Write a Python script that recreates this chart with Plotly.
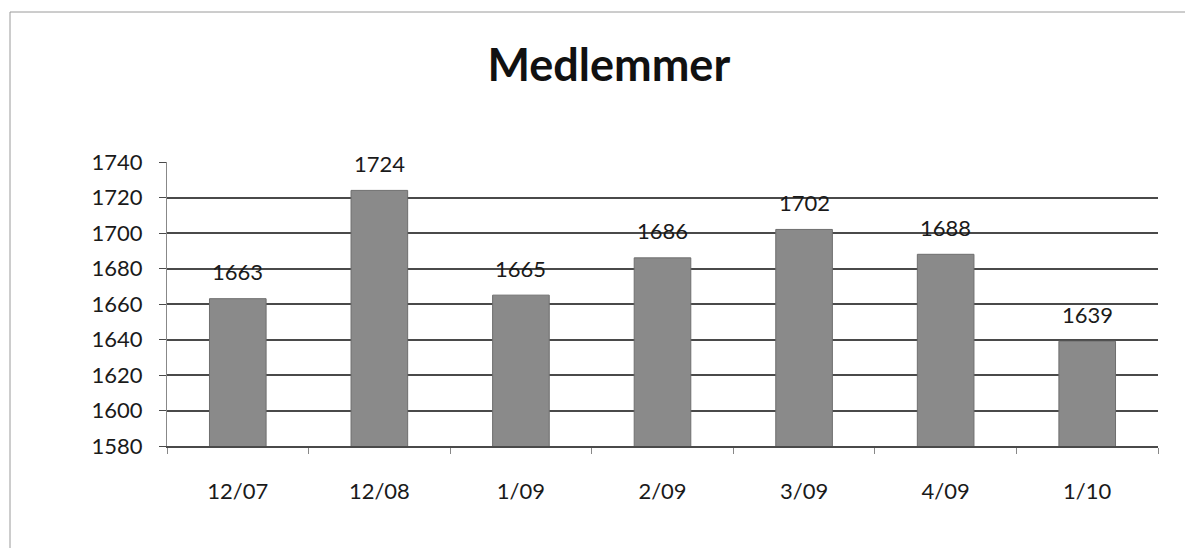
import plotly.graph_objects as go

categories = ["12/07", "12/08", "1/09", "2/09", "3/09", "4/09", "1/10"]
values = [1663, 1724, 1665, 1686, 1702, 1688, 1639]
y_ticks = [1580, 1600, 1620, 1640, 1660, 1680, 1700, 1720, 1740]

# page body offset of 8px is compensated in the figure size/margins
W, H = 1185, 540
L, R, T, B = 159, 35, 154, 102
pw, ph = W - L - R, H - T - B
OFF = 8

font = "Lato, 'Open Sans', sans-serif"

fig = go.Figure()
fig.add_trace(go.Bar(
    x=categories, y=values, width=0.4,
    marker=dict(color="#8a8a8a", line=dict(color="#6e6e6e", width=1)),
    hoverinfo="x+y",
))
for c, v in zip(categories, values):
    fig.add_annotation(x=c, y=v, text=str(v), showarrow=False, yshift=27,
                       font=dict(size=22, color="#1a1a1a", family=font))

fig.update_layout(
    width=W, height=H,
    margin=dict(l=L, r=R, t=T, b=B),
    paper_bgcolor="white", plot_bgcolor="white",
    title=dict(text="<b>Medlemmer</b>", x=0.507, xanchor="center", y=0.894, yanchor="middle",
               font=dict(size=45, color="#111", family=font)),
    showlegend=False,
    bargap=0.6,
)
fig.update_yaxes(range=[1580, 1740], tickvals=y_ticks, showgrid=True,
                 gridcolor="#4a4a4a", gridwidth=1.5, showline=True, linecolor="#888",
                 linewidth=1, ticks="outside", ticklen=7, tickcolor="#4a4a4a",
                 tickfont=dict(size=22, color="#1a1a1a", family=font),
                 ticklabelstandoff=12, zeroline=False)
fig.update_xaxes(showline=True, linecolor="#4a4a4a", linewidth=1.5, ticks="outside",
                 tickson="boundaries", ticklen=6, tickcolor="#888",
                 tickfont=dict(size=22, color="#1a1a1a", family=font),
                 ticklabelstandoff=25)

# outer chart frame (screen pixel coordinates converted to paper coordinates)
def px_x(x):
    return (x - OFF - L) / pw

def px_y(y):
    return (H - B - (y - OFF)) / ph

fig.add_shape(type="rect", xref="paper", yref="paper",
              x0=px_x(10), x1=px_x(1190), y0=px_y(560), y1=px_y(12),
              line=dict(color="#9a9a9a", width=1), layer="below")

fig.write_html("out.html")
